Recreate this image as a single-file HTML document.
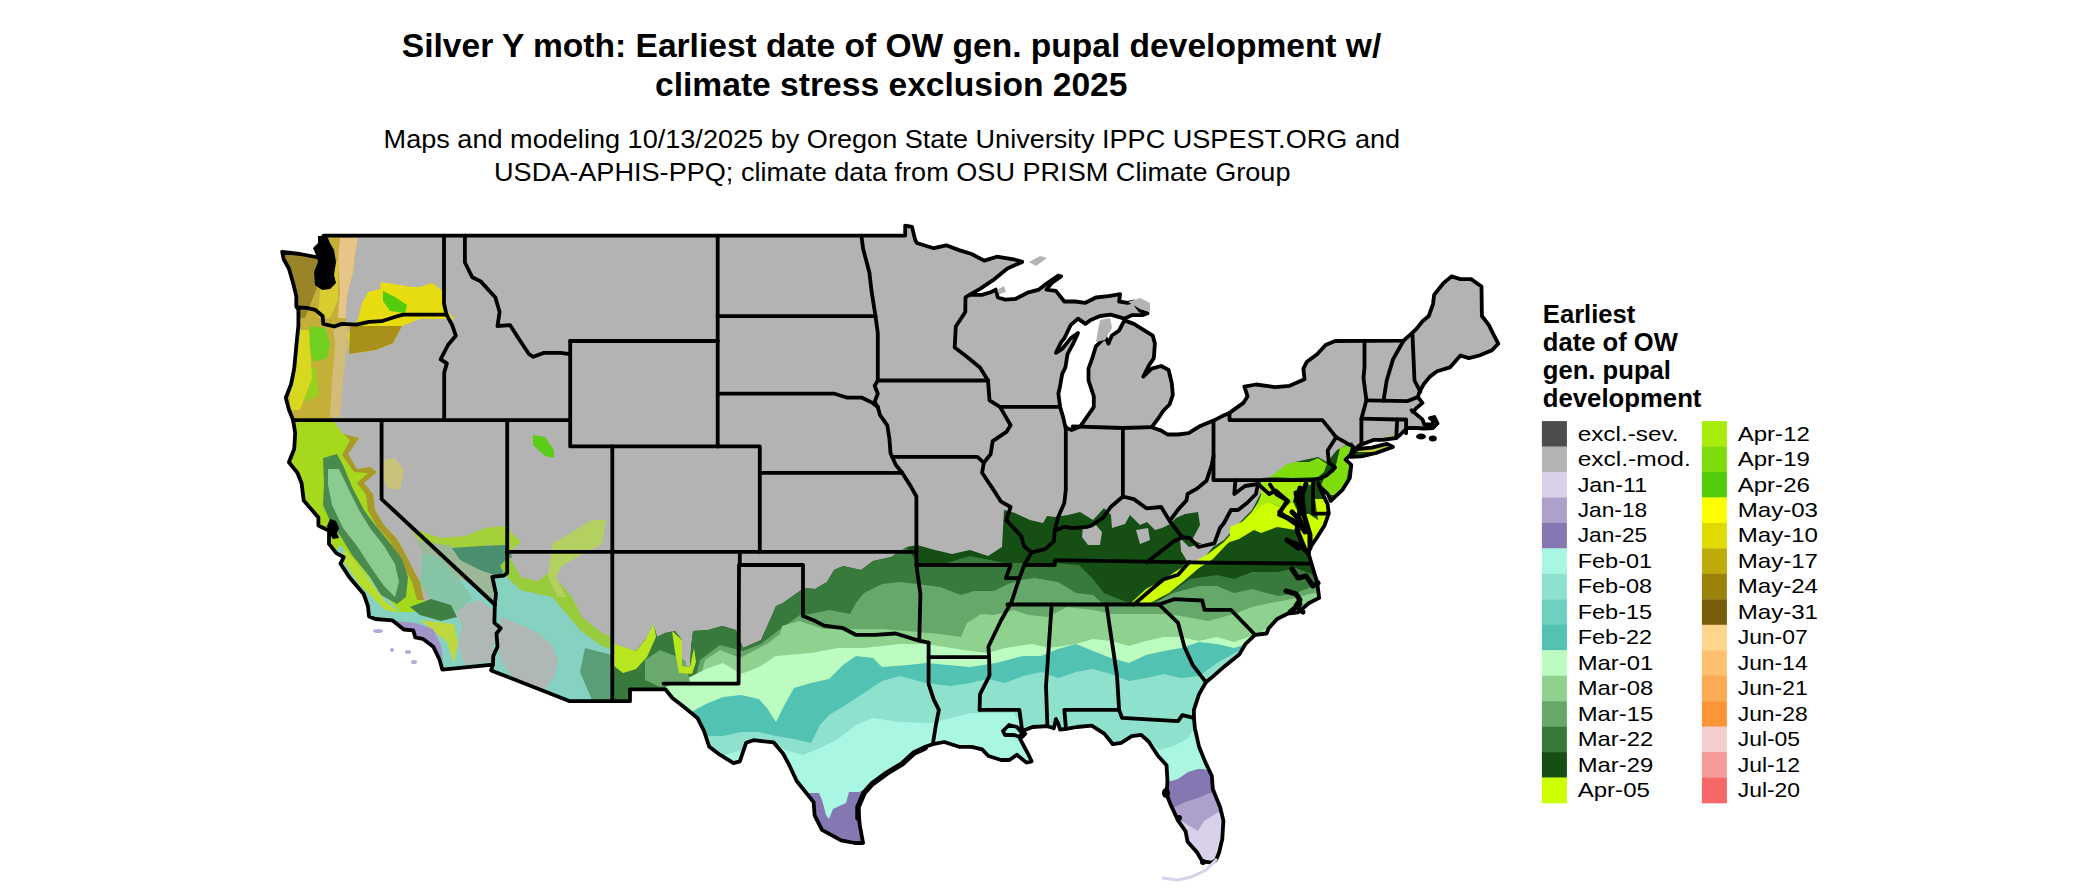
<!DOCTYPE html>
<html><head><meta charset="utf-8"><style>
html,body{margin:0;padding:0;background:#fff;width:2100px;height:892px;overflow:hidden}
svg{display:block}
text{font-family:"Liberation Sans",sans-serif;fill:#000}
</style></head><body>
<svg width="2100" height="892" viewBox="0 0 2100 892">
<text x="401.8" y="57.1" font-size="32.4" font-weight="bold" textLength="979.5" lengthAdjust="spacingAndGlyphs">Silver Y moth: Earliest date of OW gen. pupal development w/</text>
<text x="655" y="96.4" font-size="32.4" font-weight="bold" textLength="472.5" lengthAdjust="spacingAndGlyphs">climate stress exclusion 2025</text>
<text x="383.6" y="148.1" font-size="26.2" textLength="1016.5" lengthAdjust="spacingAndGlyphs">Maps and modeling 10/13/2025 by Oregon State University IPPC USPEST.ORG and</text>
<text x="494" y="180.5" font-size="26.2" textLength="796.5" lengthAdjust="spacingAndGlyphs">USDA-APHIS-PPQ; climate data from OSU PRISM Climate Group</text>
<defs><clipPath id="land"><polygon points="323.5,235.6 905.2,235.6 905.2,225.6 912.0,226.9 915.1,239.6 916.8,243.0 933.7,248.2 946.3,245.3 959.0,250.1 971.6,254.0 984.2,260.6 996.9,256.7 1013.7,259.3 1022.2,261.9 1007.4,268.5 992.7,280.4 980.0,288.8 969.5,294.9 982.1,294.9 990.6,292.3 995.8,289.6 997.9,297.5 1005.3,299.6 1015.8,298.8 1028.5,292.3 1039.0,289.6 1047.4,283.0 1058.0,275.7 1061.1,276.4 1051.7,283.0 1046.4,289.6 1055.9,290.9 1064.3,301.5 1074.8,301.5 1085.4,302.8 1095.9,297.5 1108.5,296.2 1120.1,294.1 1119.1,301.5 1127.5,302.8 1133.8,301.5 1137.0,306.7 1140.2,310.7 1147.5,313.3 1142.3,315.2 1131.7,315.2 1124.4,318.6 1110.7,314.6 1100.1,316.0 1090.6,319.9 1085.4,323.9 1078.0,318.6 1070.6,325.2 1064.3,338.4 1061.1,342.3 1055.9,352.9 1062.2,348.9 1070.6,338.4 1078.0,333.1 1073.8,342.3 1067.5,354.2 1065.4,367.4 1062.2,373.9 1060.1,385.8 1058.4,393.7 1060.1,406.9 1063.2,417.4 1065.4,427.4 1071.7,430.1 1080.1,426.6 1087.5,416.1 1093.8,406.9 1093.8,396.3 1088.5,380.5 1088.5,368.7 1092.7,356.8 1095.9,346.3 1105.4,337.0 1108.5,343.6 1111.7,335.7 1119.1,330.5 1124.4,320.4 1133.8,323.9 1142.3,329.1 1152.8,335.7 1154.9,343.6 1153.8,358.1 1148.6,366.0 1143.3,376.6 1151.7,368.7 1161.2,366.0 1168.6,370.0 1171.8,383.2 1172.8,395.0 1169.7,404.2 1163.3,410.8 1158.1,418.7 1151.7,427.2 1161.2,430.6 1167.5,434.5 1178.1,434.5 1188.6,433.2 1199.1,426.6 1213.5,420.6 1222.3,416.1 1229.5,412.9 1243.4,402.9 1247.6,396.3 1244.4,386.6 1256.0,384.5 1275.0,387.1 1289.7,385.8 1304.5,379.2 1303.4,368.7 1306.6,362.1 1317.1,354.2 1325.6,345.0 1335.1,341.0 1403.5,340.7 1412.0,333.1 1416.2,329.1 1422.5,321.2 1428.8,316.0 1433.0,304.1 1434.1,294.9 1443.6,283.0 1451.6,276.4 1460.4,279.1 1471.0,279.1 1481.5,286.5 1481.9,316.0 1488.9,325.2 1494.1,335.7 1498.3,343.6 1492.0,350.2 1479.4,355.5 1468.8,358.1 1460.4,355.5 1449.9,367.4 1437.2,371.3 1429.9,376.6 1423.5,384.5 1419.3,392.4 1417.9,397.1 1422.5,402.9 1416.2,408.2 1413.0,412.1 1411.6,410.2 1422.6,419.6 1424.2,424.5 1432.0,424.5 1433.5,421.0 1430.0,418.0 1434.4,417.0 1437.5,423.5 1433.0,428.0 1424.0,428.5 1416.0,428.0 1407.0,428.0 1400.0,435.0 1396.2,438.0 1382.5,439.8 1374.0,439.8 1363.5,443.8 1358.2,446.4 1353.0,450.4 1350.9,454.3 1345.6,459.6 1351.3,464.8 1349.8,478.0 1342.4,489.9 1330.8,500.9 1327.7,493.8 1319.2,485.9 1318.2,483.3 1321.4,491.2 1327.7,504.4 1328.7,513.6 1324.5,525.5 1317.1,537.3 1309.8,547.8 1308.7,553.9 1311.5,563.7 1317.1,582.1 1319.2,597.9 1308.7,603.2 1298.2,612.4 1287.6,613.7 1277.1,619.0 1268.7,628.2 1266.6,633.5 1255.0,634.8 1245.5,644.0 1239.2,654.6 1224.4,666.4 1213.9,675.6 1205.9,682.2 1199.1,694.1 1193.9,709.9 1193.9,717.8 1194.9,728.3 1199.1,746.8 1205.5,762.6 1211.8,775.8 1212.8,789.0 1220.2,807.4 1223.4,820.6 1222.3,839.0 1219.2,852.2 1216.0,860.1 1211.8,862.7 1202.3,861.4 1197.0,852.2 1187.6,841.7 1185.5,831.1 1178.1,820.6 1170.7,804.8 1166.5,794.2 1167.5,781.0 1166.5,765.2 1158.1,756.0 1148.6,741.5 1141.2,734.9 1131.7,736.2 1121.2,742.8 1112.8,744.2 1104.3,733.6 1091.7,725.7 1076.9,727.0 1066.0,728.9 1060.1,729.7 1058.0,723.1 1055.9,719.1 1053.8,728.3 1047.4,726.2 1032.7,727.0 1022.2,731.0 1025.3,733.6 1020.1,738.9 1024.3,746.8 1028.5,754.7 1031.6,761.3 1026.4,762.6 1016.9,754.7 1009.5,760.0 1001.1,760.0 988.4,756.0 982.1,749.4 971.6,746.8 959.0,746.8 944.2,742.0 932.8,744.2 925.2,746.8 913.7,753.4 902.1,763.9 887.3,773.1 872.6,783.7 864.1,792.9 857.8,807.4 859.9,825.8 863.1,843.0 854.7,843.0 841.0,840.3 822.0,829.8 814.6,815.3 813.6,802.1 796.7,781.0 789.3,765.2 783.0,753.4 773.5,742.3 753.5,740.2 746.1,742.8 739.8,761.3 733.5,763.1 719.8,754.7 709.3,746.8 704.0,731.0 697.7,718.3 685.0,707.8 672.4,698.0 665.4,689.3 630.0,689.3 630.0,701.2 569.8,701.2 491.2,670.4 492.9,664.6 442.3,669.6 439.6,659.8 433.3,646.7 422.7,638.8 415.3,637.4 413.2,630.3 403.8,629.5 392.2,620.3 375.3,619.0 369.0,616.4 367.9,605.8 363.7,594.0 350.0,578.1 340.5,563.7 343.7,557.1 336.3,553.1 329.0,543.9 329.0,530.7 318.4,525.5 318.4,517.5 303.7,500.4 301.6,483.3 297.4,472.8 288.9,462.2 294.2,449.0 295.2,433.2 293.1,420.1 288.9,409.5 285.8,397.7 291.0,384.5 294.2,368.7 296.3,346.3 298.4,325.2 298.4,309.4 296.3,306.7 296.3,296.2 293.1,283.0 288.9,268.5 283.7,259.3 282.2,251.9 300.0,254.0 321.0,258.0 324.0,248.0"/><polygon points="1350.9,456.9 1361.4,456.4 1376.1,453.0 1393.0,446.9 1386.7,443.8 1371.9,447.7 1357.2,449.0 1349.8,455.6"/></clipPath></defs>
<polygon points="323.5,235.6 905.2,235.6 905.2,225.6 912.0,226.9 915.1,239.6 916.8,243.0 933.7,248.2 946.3,245.3 959.0,250.1 971.6,254.0 984.2,260.6 996.9,256.7 1013.7,259.3 1022.2,261.9 1007.4,268.5 992.7,280.4 980.0,288.8 969.5,294.9 982.1,294.9 990.6,292.3 995.8,289.6 997.9,297.5 1005.3,299.6 1015.8,298.8 1028.5,292.3 1039.0,289.6 1047.4,283.0 1058.0,275.7 1061.1,276.4 1051.7,283.0 1046.4,289.6 1055.9,290.9 1064.3,301.5 1074.8,301.5 1085.4,302.8 1095.9,297.5 1108.5,296.2 1120.1,294.1 1119.1,301.5 1127.5,302.8 1133.8,301.5 1137.0,306.7 1140.2,310.7 1147.5,313.3 1142.3,315.2 1131.7,315.2 1124.4,318.6 1110.7,314.6 1100.1,316.0 1090.6,319.9 1085.4,323.9 1078.0,318.6 1070.6,325.2 1064.3,338.4 1061.1,342.3 1055.9,352.9 1062.2,348.9 1070.6,338.4 1078.0,333.1 1073.8,342.3 1067.5,354.2 1065.4,367.4 1062.2,373.9 1060.1,385.8 1058.4,393.7 1060.1,406.9 1063.2,417.4 1065.4,427.4 1071.7,430.1 1080.1,426.6 1087.5,416.1 1093.8,406.9 1093.8,396.3 1088.5,380.5 1088.5,368.7 1092.7,356.8 1095.9,346.3 1105.4,337.0 1108.5,343.6 1111.7,335.7 1119.1,330.5 1124.4,320.4 1133.8,323.9 1142.3,329.1 1152.8,335.7 1154.9,343.6 1153.8,358.1 1148.6,366.0 1143.3,376.6 1151.7,368.7 1161.2,366.0 1168.6,370.0 1171.8,383.2 1172.8,395.0 1169.7,404.2 1163.3,410.8 1158.1,418.7 1151.7,427.2 1161.2,430.6 1167.5,434.5 1178.1,434.5 1188.6,433.2 1199.1,426.6 1213.5,420.6 1222.3,416.1 1229.5,412.9 1243.4,402.9 1247.6,396.3 1244.4,386.6 1256.0,384.5 1275.0,387.1 1289.7,385.8 1304.5,379.2 1303.4,368.7 1306.6,362.1 1317.1,354.2 1325.6,345.0 1335.1,341.0 1403.5,340.7 1412.0,333.1 1416.2,329.1 1422.5,321.2 1428.8,316.0 1433.0,304.1 1434.1,294.9 1443.6,283.0 1451.6,276.4 1460.4,279.1 1471.0,279.1 1481.5,286.5 1481.9,316.0 1488.9,325.2 1494.1,335.7 1498.3,343.6 1492.0,350.2 1479.4,355.5 1468.8,358.1 1460.4,355.5 1449.9,367.4 1437.2,371.3 1429.9,376.6 1423.5,384.5 1419.3,392.4 1417.9,397.1 1422.5,402.9 1416.2,408.2 1413.0,412.1 1411.6,410.2 1422.6,419.6 1424.2,424.5 1432.0,424.5 1433.5,421.0 1430.0,418.0 1434.4,417.0 1437.5,423.5 1433.0,428.0 1424.0,428.5 1416.0,428.0 1407.0,428.0 1400.0,435.0 1396.2,438.0 1382.5,439.8 1374.0,439.8 1363.5,443.8 1358.2,446.4 1353.0,450.4 1350.9,454.3 1345.6,459.6 1351.3,464.8 1349.8,478.0 1342.4,489.9 1330.8,500.9 1327.7,493.8 1319.2,485.9 1318.2,483.3 1321.4,491.2 1327.7,504.4 1328.7,513.6 1324.5,525.5 1317.1,537.3 1309.8,547.8 1308.7,553.9 1311.5,563.7 1317.1,582.1 1319.2,597.9 1308.7,603.2 1298.2,612.4 1287.6,613.7 1277.1,619.0 1268.7,628.2 1266.6,633.5 1255.0,634.8 1245.5,644.0 1239.2,654.6 1224.4,666.4 1213.9,675.6 1205.9,682.2 1199.1,694.1 1193.9,709.9 1193.9,717.8 1194.9,728.3 1199.1,746.8 1205.5,762.6 1211.8,775.8 1212.8,789.0 1220.2,807.4 1223.4,820.6 1222.3,839.0 1219.2,852.2 1216.0,860.1 1211.8,862.7 1202.3,861.4 1197.0,852.2 1187.6,841.7 1185.5,831.1 1178.1,820.6 1170.7,804.8 1166.5,794.2 1167.5,781.0 1166.5,765.2 1158.1,756.0 1148.6,741.5 1141.2,734.9 1131.7,736.2 1121.2,742.8 1112.8,744.2 1104.3,733.6 1091.7,725.7 1076.9,727.0 1066.0,728.9 1060.1,729.7 1058.0,723.1 1055.9,719.1 1053.8,728.3 1047.4,726.2 1032.7,727.0 1022.2,731.0 1025.3,733.6 1020.1,738.9 1024.3,746.8 1028.5,754.7 1031.6,761.3 1026.4,762.6 1016.9,754.7 1009.5,760.0 1001.1,760.0 988.4,756.0 982.1,749.4 971.6,746.8 959.0,746.8 944.2,742.0 932.8,744.2 925.2,746.8 913.7,753.4 902.1,763.9 887.3,773.1 872.6,783.7 864.1,792.9 857.8,807.4 859.9,825.8 863.1,843.0 854.7,843.0 841.0,840.3 822.0,829.8 814.6,815.3 813.6,802.1 796.7,781.0 789.3,765.2 783.0,753.4 773.5,742.3 753.5,740.2 746.1,742.8 739.8,761.3 733.5,763.1 719.8,754.7 709.3,746.8 704.0,731.0 697.7,718.3 685.0,707.8 672.4,698.0 665.4,689.3 630.0,689.3 630.0,701.2 569.8,701.2 491.2,670.4 492.9,664.6 442.3,669.6 439.6,659.8 433.3,646.7 422.7,638.8 415.3,637.4 413.2,630.3 403.8,629.5 392.2,620.3 375.3,619.0 369.0,616.4 367.9,605.8 363.7,594.0 350.0,578.1 340.5,563.7 343.7,557.1 336.3,553.1 329.0,543.9 329.0,530.7 318.4,525.5 318.4,517.5 303.7,500.4 301.6,483.3 297.4,472.8 288.9,462.2 294.2,449.0 295.2,433.2 293.1,420.1 288.9,409.5 285.8,397.7 291.0,384.5 294.2,368.7 296.3,346.3 298.4,325.2 298.4,309.4 296.3,306.7 296.3,296.2 293.1,283.0 288.9,268.5 283.7,259.3 282.2,251.9 300.0,254.0 321.0,258.0 324.0,248.0" fill="#b3b3b3"/>
<polygon points="1350.9,456.9 1361.4,456.4 1376.1,453.0 1393.0,446.9 1386.7,443.8 1371.9,447.7 1357.2,449.0 1349.8,455.6" fill="#c8d040"/>
<g clip-path="url(#land)">
<polygon points="612,644 618,648 636,651 645,640 654,626 657,637 665,633 675,631 682,640 682,666 690,667 691,648 693,631 708,630 722,626 736,630 743,648 761,640 770,620 776,606 783,603 790,598 804,588 815,589 827,582 834,570 843,566 861,570 873,561 891,557 907,547 917,545 935,550 952,554 970,550 988,556 1002,547 1004,510 1015,513 1030,520 1043,523 1047,516 1055,517 1068,515 1080,512 1093,520 1104,508 1111,515 1112,528 1125,524 1130,515 1140,525 1147,522 1155,530 1162,528 1170,524 1176,518 1185,514 1198,512 1200,525 1192,540 1205,545 1222,533 1232,514 1245,508 1258,488 1262,478 1290,476 1295,462 1318,457 1327,462 1337,450 1352,442 1358,452 1500,452 1500,900 612,900" fill="#154f14"/>
<polygon points="600,900 612,644 618,648 636,651 645,640 654,626 657,637 665,633 675,631 682,640 682,666 690,667 691,648 693,631 708,630 722,626 736,630 743,648 761,640 770,620 776,606 783,603 790,598 804,588 815,589 827,582 834,570 843,566 861,570 873,561 891,557 907,547 917,563 940,565 970,556 1005,563 1023,563 1053,563 1079,565 1093,579 1104,593 1129,603 1132,604 1160,600 1190,579 1217,575 1234,579 1252,572 1278,572 1296,568 1314,575 1340,575 1340,900 600,900" fill="#387a3c"/>
<polygon points="600,900 612,700 690,700 700,660 720,645 743,651 761,644 779,630 800,615 811,614 829,610 850,614 856,603 864,593 882,584 900,582 917,584 940,587 961,595 974,591 994,591 1008,584 1021,580 1035,578 1058,582 1076,593 1093,595 1102,603 1140,605 1155,603 1173,593 1199,586 1217,586 1234,593 1252,589 1278,596 1296,593 1314,586 1340,585 1340,900 600,900" fill="#66a86a"/>
<polygon points="600,900 612,705 695,700 705,660 720,650 740,658 767,644 780,634 782,626 799,621 824,629 854,629 883,629 918,632 940,634 961,637 967,623 981,614 994,615 1014,610 1028,615 1048,617 1067,607 1093,610 1111,614 1129,614 1146,614 1164,614 1181,616 1208,621 1234,614 1252,607 1270,603 1287,600 1314,593 1340,590 1340,900 600,900" fill="#8fd18f"/>
<polygon points="600,900 612,712 650,700 671,683 688,678 706,669 723,663 741,674 759,667 776,656 811,653 838,648 864,648 900,644 926,644 970,651 988,653 1005,648 1032,644 1049,648 1076,644 1093,639 1111,641 1129,646 1146,641 1164,637 1181,637 1199,641 1217,637 1234,642 1260,633 1280,620 1300,612 1340,605 1340,900 600,900" fill="#bdfcc0"/>
<polygon points="600,900 660,760 695,740 693,711 706,704 723,697 741,695 759,699 767,708 776,722 785,704 794,688 811,683 829,679 843,665 856,656 873,658 882,667 908,665 926,663 970,667 996,663 1023,656 1041,656 1058,649 1076,644 1093,651 1111,658 1129,663 1146,655 1164,651 1181,648 1199,642 1217,644 1234,648 1260,640 1290,625 1340,615 1340,900 600,900" fill="#52c2b2"/>
<polygon points="600,900 680,770 702,737 709,736 723,736 741,732 759,732 776,736 794,739 811,743 820,725 829,715 847,704 864,693 882,681 900,676 926,683 950,686 970,683 988,679 1005,683 1023,676 1041,672 1058,678 1076,672 1093,669 1111,674 1129,681 1146,678 1164,674 1181,678 1199,676 1217,663 1240,650 1290,630 1340,620 1340,900 600,900" fill="#8de1cd"/>
<polygon points="600,900 700,762 760,745 776,743 785,750 803,755 820,748 838,739 856,725 873,718 900,722 931,723 970,713 1014,713 1021,725 1028,729 1030,745 1140,745 1152,743 1160,750 1173,746 1187,739 1194,729 1240,700 1340,690 1340,900 600,900" fill="#a9f6e2"/>
<polygon points="1160,783 1168,782 1178,779 1188,772 1198,769 1204,769 1220,776 1240,900 1150,900" fill="#8577b1"/>
<polygon points="1165,809 1173,808 1185,802 1198,798 1207,794 1214,792 1230,790 1240,900 1150,900" fill="#ada0cb"/>
<polygon points="1175,822 1181,821 1198,831 1204,821 1217,813 1222,811 1235,810 1240,900 1150,900" fill="#d9d1e9"/>
<polygon points="805,793 810,793 819,793 822,800 826,815 829,819 833,809 846,803 849,792 859,792 875,785 875,860 800,860" fill="#8577b1"/>
<polygon points="1083,527 1095,524 1102,532 1100,545 1088,545 1082,537" fill="#b3b3b3"/>
<polygon points="1136,530 1148,528 1150,540 1140,544" fill="#b3b3b3"/>
<polygon points="1180,538 1189,547 1204,543 1220,531 1231,512 1243,506 1259,485 1262,491 1252,510 1238,524 1224,540 1213,547 1204,558 1190,565 1187,575 1173,589 1164,595 1169,582 1178,572 1187,561 1181,551" fill="#b3b3b3"/>
<polygon points="1132,602 1146,589 1164,579 1181,568 1196,561 1208,554 1224,542 1238,526 1252,512 1261,498 1270,484 1276,488 1270,501 1259,521 1245,529 1226,545 1213,559 1199,568 1185,580 1169,593 1150,603 1136,607" fill="#ccff00"/>
<polygon points="1254,514 1269,502 1282,508 1293,502 1299,514 1309,514 1318,520 1327,514 1318,546 1305,549 1296,530 1277,527 1261,533 1254,530 1239,539 1230,542 1230,527 1246,520" fill="#ccff00"/>
<polygon points="1261,480 1309,480 1315,483 1299,489 1293,502 1282,508 1269,502 1258,508 1254,514 1261,495" fill="#a8ec0c"/>
<polygon points="1270,477 1287,464 1296,462 1309,462 1318,458 1327,464 1324,472 1318,477 1293,478" fill="#7fdc0c"/>
<polygon points="1340,448 1351,444 1352,451 1349,467 1346,483 1337,495 1327,495 1321,486 1324,478 1334,472 1337,461" fill="#7fdc0c"/>
<polygon points="1315,499 1327,499 1330,514 1318,520" fill="#ccff00"/>
<polygon points="1348,450 1370,441 1395,435 1430,428 1448,426 1448,436 1400,443 1362,452" fill="#c8d040"/>
<polygon points="645,660 660,650 685,660 690,682 660,687 645,680" fill="#6aa86c"/>
<polygon points="614,644 636,651 645,640 654,624 656,637 647,657 636,669 623,673 614,666" fill="#b8e620"/>
<polygon points="672,631 682,640 682,666 690,667 694,648 696,662 692,674 679,673 675,652" fill="#b8e620"/>
<polygon points="270,236 323,236 358,238 355,255 353,273 348,291 346,308 346,326 344,343 339,361 336,380 333,400 332,418 270,418" fill="#c4b038"/>
<polygon points="270,245 318,258 320,280 312,300 305,318 270,318" fill="#9a8428"/>
<polygon points="340,238 358,238 355,255 353,273 348,291 346,308 346,318 338,318 340,290 338,260" fill="#e8c488"/>
<polygon points="322,262 338,262 338,300 330,318 318,318 320,290" fill="#d8cc30"/>
<polygon points="333,326 349,324 347,345 343,380 340,417 330,417 332,380 335,345" fill="#d2bc78"/>
<polygon points="310,326 325,328 330,345 327,358 313,362 309,345" fill="#70d020"/>
<polygon points="300,365 316,368 319,395 306,402 298,386" fill="#98d020"/>
<polygon points="290,330 309,330 312,378 300,410 290,410" fill="#d8d820"/>
<polygon points="362,303 368,292 380,289 381,282 394,284 412,287 420,287 432,283 443,291 444,308 455,319 420,319 402,326 393,343 376,350 349,354 348,333 358,319" fill="#e6dc10"/>
<polygon points="383,291 395,297 407,305 405,313 390,311 383,301" fill="#53cc0b"/>
<polygon points="350,326 402,326 393,343 376,350 349,354" fill="#a8901a"/>
<polygon points="270,418 332,418 334,422 343,434 359,438 348,454 357,469 370,467 377,472 364,483 373,494 375,510 384,525 397,539 406,555 415,573 420,582 424,600 430,612 400,625 270,625" fill="#a6d81e"/>
<polygon points="343,434 359,438 348,454 357,469 370,467 377,472 364,483 373,494 375,510 384,525 397,539 406,555 415,573 420,582 424,600 417,600 412,582 407,573 398,556 390,541 377,527 368,511 366,495 357,483 368,473 354,472 342,455 350,440" fill="#a89a28"/>
<polygon points="340,545 380,590 400,612 430,612 445,590 470,572 493,578 500,566 505,575 520,590 538,594 552,597 565,612 580,630 600,645 612,650 612,720 380,720 330,560" fill="#86d2c2"/>
<polygon points="323,458 337,454 343,465 352,487 364,510 375,525 390,543 402,559 408,577 406,597 397,604 381,595 370,577 352,555 341,537 330,521 323,505 324,483" fill="#4a8a4e"/>
<polygon points="328,469 339,469 350,492 359,510 370,528 384,546 395,564 399,582 395,597 384,586 370,566 357,546 343,528 332,505 328,485" fill="#8ccb90"/>
<polygon points="460,605 480,600 495,612 497,633 493,649 497,661 465,665 458,645 462,625 455,612" fill="#b0b8b6"/>
<polygon points="501,617 521,625 538,633 552,645 558,661 554,677 542,692 521,686 509,673 501,661 497,641" fill="#b0b8b6"/>
<polygon points="410,528 441,538 465,536 485,528 505,526 521,542 509,552 490,545 470,548 445,550 420,542" fill="#a4d038"/>
<polygon points="416,540 451,546 493,576 493,600 465,581 430,564" fill="#9cb898"/>
<polygon points="452,548 480,546 505,545 512,556 500,577 480,570 460,560" fill="#4a9070"/>
<polygon points="509,556 521,577 538,581 548,573 558,581 572,597 582,617 602,633 612,637 612,650 600,645 580,630 565,612 552,597 538,594 520,590 505,575 500,566" fill="#98cc3c"/>
<polygon points="552,544 572,532 592,520 606,520 602,544 582,554 562,566 556,577 566,597 558,597 548,577" fill="#b4d060"/>
<polygon points="423,553 440,558 458,578 472,598 457,612 432,602 420,583" fill="#86c4a6"/>
<polygon points="345,549 366,576 385,601 400,613 385,610 359,584 342,559" fill="#b8dc30"/>
<polygon points="420,620 454,624 458,642 454,664 447,642" fill="#c0d840"/>
<polygon points="585,648 612,655 612,700 592,700 580,672" fill="#5a9e78"/>
<polygon points="410,607 431,599 451,605 457,617 441,621 420,615" fill="#3f7f44"/>
<polygon points="396,621 416,623 433,629 441,645 443,661 437,651 420,637 400,625" fill="#a294c8"/>
<polygon points="533,435 545,437 554,450 554,458 545,456 533,445" fill="#5ccc18"/>
<polygon points="383,460 395,458 404,470 400,490 387,488 382,475" fill="#c8c27a"/>
</g>
<polygon points="323.5,235.6 905.2,235.6 905.2,225.6 912.0,226.9 915.1,239.6 916.8,243.0 933.7,248.2 946.3,245.3 959.0,250.1 971.6,254.0 984.2,260.6 996.9,256.7 1013.7,259.3 1022.2,261.9 1007.4,268.5 992.7,280.4 980.0,288.8 969.5,294.9 982.1,294.9 990.6,292.3 995.8,289.6 997.9,297.5 1005.3,299.6 1015.8,298.8 1028.5,292.3 1039.0,289.6 1047.4,283.0 1058.0,275.7 1061.1,276.4 1051.7,283.0 1046.4,289.6 1055.9,290.9 1064.3,301.5 1074.8,301.5 1085.4,302.8 1095.9,297.5 1108.5,296.2 1120.1,294.1 1119.1,301.5 1127.5,302.8 1133.8,301.5 1137.0,306.7 1140.2,310.7 1147.5,313.3 1142.3,315.2 1131.7,315.2 1124.4,318.6 1110.7,314.6 1100.1,316.0 1090.6,319.9 1085.4,323.9 1078.0,318.6 1070.6,325.2 1064.3,338.4 1061.1,342.3 1055.9,352.9 1062.2,348.9 1070.6,338.4 1078.0,333.1 1073.8,342.3 1067.5,354.2 1065.4,367.4 1062.2,373.9 1060.1,385.8 1058.4,393.7 1060.1,406.9 1063.2,417.4 1065.4,427.4 1071.7,430.1 1080.1,426.6 1087.5,416.1 1093.8,406.9 1093.8,396.3 1088.5,380.5 1088.5,368.7 1092.7,356.8 1095.9,346.3 1105.4,337.0 1108.5,343.6 1111.7,335.7 1119.1,330.5 1124.4,320.4 1133.8,323.9 1142.3,329.1 1152.8,335.7 1154.9,343.6 1153.8,358.1 1148.6,366.0 1143.3,376.6 1151.7,368.7 1161.2,366.0 1168.6,370.0 1171.8,383.2 1172.8,395.0 1169.7,404.2 1163.3,410.8 1158.1,418.7 1151.7,427.2 1161.2,430.6 1167.5,434.5 1178.1,434.5 1188.6,433.2 1199.1,426.6 1213.5,420.6 1222.3,416.1 1229.5,412.9 1243.4,402.9 1247.6,396.3 1244.4,386.6 1256.0,384.5 1275.0,387.1 1289.7,385.8 1304.5,379.2 1303.4,368.7 1306.6,362.1 1317.1,354.2 1325.6,345.0 1335.1,341.0 1403.5,340.7 1412.0,333.1 1416.2,329.1 1422.5,321.2 1428.8,316.0 1433.0,304.1 1434.1,294.9 1443.6,283.0 1451.6,276.4 1460.4,279.1 1471.0,279.1 1481.5,286.5 1481.9,316.0 1488.9,325.2 1494.1,335.7 1498.3,343.6 1492.0,350.2 1479.4,355.5 1468.8,358.1 1460.4,355.5 1449.9,367.4 1437.2,371.3 1429.9,376.6 1423.5,384.5 1419.3,392.4 1417.9,397.1 1422.5,402.9 1416.2,408.2 1413.0,412.1 1411.6,410.2 1422.6,419.6 1424.2,424.5 1432.0,424.5 1433.5,421.0 1430.0,418.0 1434.4,417.0 1437.5,423.5 1433.0,428.0 1424.0,428.5 1416.0,428.0 1407.0,428.0 1400.0,435.0 1396.2,438.0 1382.5,439.8 1374.0,439.8 1363.5,443.8 1358.2,446.4 1353.0,450.4 1350.9,454.3 1345.6,459.6 1351.3,464.8 1349.8,478.0 1342.4,489.9 1330.8,500.9 1327.7,493.8 1319.2,485.9 1318.2,483.3 1321.4,491.2 1327.7,504.4 1328.7,513.6 1324.5,525.5 1317.1,537.3 1309.8,547.8 1308.7,553.9 1311.5,563.7 1317.1,582.1 1319.2,597.9 1308.7,603.2 1298.2,612.4 1287.6,613.7 1277.1,619.0 1268.7,628.2 1266.6,633.5 1255.0,634.8 1245.5,644.0 1239.2,654.6 1224.4,666.4 1213.9,675.6 1205.9,682.2 1199.1,694.1 1193.9,709.9 1193.9,717.8 1194.9,728.3 1199.1,746.8 1205.5,762.6 1211.8,775.8 1212.8,789.0 1220.2,807.4 1223.4,820.6 1222.3,839.0 1219.2,852.2 1216.0,860.1 1211.8,862.7 1202.3,861.4 1197.0,852.2 1187.6,841.7 1185.5,831.1 1178.1,820.6 1170.7,804.8 1166.5,794.2 1167.5,781.0 1166.5,765.2 1158.1,756.0 1148.6,741.5 1141.2,734.9 1131.7,736.2 1121.2,742.8 1112.8,744.2 1104.3,733.6 1091.7,725.7 1076.9,727.0 1066.0,728.9 1060.1,729.7 1058.0,723.1 1055.9,719.1 1053.8,728.3 1047.4,726.2 1032.7,727.0 1022.2,731.0 1025.3,733.6 1020.1,738.9 1024.3,746.8 1028.5,754.7 1031.6,761.3 1026.4,762.6 1016.9,754.7 1009.5,760.0 1001.1,760.0 988.4,756.0 982.1,749.4 971.6,746.8 959.0,746.8 944.2,742.0 932.8,744.2 925.2,746.8 913.7,753.4 902.1,763.9 887.3,773.1 872.6,783.7 864.1,792.9 857.8,807.4 859.9,825.8 863.1,843.0 854.7,843.0 841.0,840.3 822.0,829.8 814.6,815.3 813.6,802.1 796.7,781.0 789.3,765.2 783.0,753.4 773.5,742.3 753.5,740.2 746.1,742.8 739.8,761.3 733.5,763.1 719.8,754.7 709.3,746.8 704.0,731.0 697.7,718.3 685.0,707.8 672.4,698.0 665.4,689.3 630.0,689.3 630.0,701.2 569.8,701.2 491.2,670.4 492.9,664.6 442.3,669.6 439.6,659.8 433.3,646.7 422.7,638.8 415.3,637.4 413.2,630.3 403.8,629.5 392.2,620.3 375.3,619.0 369.0,616.4 367.9,605.8 363.7,594.0 350.0,578.1 340.5,563.7 343.7,557.1 336.3,553.1 329.0,543.9 329.0,530.7 318.4,525.5 318.4,517.5 303.7,500.4 301.6,483.3 297.4,472.8 288.9,462.2 294.2,449.0 295.2,433.2 293.1,420.1 288.9,409.5 285.8,397.7 291.0,384.5 294.2,368.7 296.3,346.3 298.4,325.2 298.4,309.4 296.3,306.7 296.3,296.2 293.1,283.0 288.9,268.5 283.7,259.3 282.2,251.9 300.0,254.0 321.0,258.0 324.0,248.0" fill="none" stroke="#000" stroke-width="3.8" stroke-linejoin="round"/>
<polygon points="1350.9,456.9 1361.4,456.4 1376.1,453.0 1393.0,446.9 1386.7,443.8 1371.9,447.7 1357.2,449.0 1349.8,455.6" fill="none" stroke="#000" stroke-width="3.8" stroke-linejoin="round"/>
<polyline points="446.5,314.6 403.1,314.6 396.4,316.5 381.6,321.2 369.0,321.8 356.3,324.7 341.6,323.9 334.2,326.5 323.3,323.9 322.6,316.0 315.3,309.9 306.8,307.8 297.4,307.5" fill="none" stroke="#000" stroke-width="3.8" stroke-linejoin="round" stroke-linecap="round"/>
<polyline points="444.0,235.6 444.0,303.6 446.5,314.6" fill="none" stroke="#000" stroke-width="3.8" stroke-linejoin="round" stroke-linecap="round"/>
<polyline points="446.5,314.6 452.2,325.2 455.8,335.7 448.0,345.0 440.6,359.4 446.9,363.4 444.2,372.6 444.2,420.1" fill="none" stroke="#000" stroke-width="3.8" stroke-linejoin="round" stroke-linecap="round"/>
<polyline points="293.1,420.1 570.2,420.1" fill="none" stroke="#000" stroke-width="3.8" stroke-linejoin="round" stroke-linecap="round"/>
<polyline points="464.9,235.6 464.9,262.5 472.2,277.2 480.7,281.4 495.4,297.5 499.6,312.0 497.5,326.0 510.2,325.2 518.6,338.4 529.1,354.2 533.3,356.8 543.9,352.9 560.7,352.9 570.2,354.2" fill="none" stroke="#000" stroke-width="3.8" stroke-linejoin="round" stroke-linecap="round"/>
<polyline points="570.2,341.0 570.2,446.4 612.3,446.4" fill="none" stroke="#000" stroke-width="3.8" stroke-linejoin="round" stroke-linecap="round"/>
<polyline points="570.2,341.0 717.9,341.0" fill="none" stroke="#000" stroke-width="3.8" stroke-linejoin="round" stroke-linecap="round"/>
<polyline points="717.7,235.6 717.7,446.4" fill="none" stroke="#000" stroke-width="3.8" stroke-linejoin="round" stroke-linecap="round"/>
<polyline points="717.7,446.4 759.8,446.4 759.8,551.8" fill="none" stroke="#000" stroke-width="3.8" stroke-linejoin="round" stroke-linecap="round"/>
<polyline points="612.3,446.4 717.7,446.4" fill="none" stroke="#000" stroke-width="3.8" stroke-linejoin="round" stroke-linecap="round"/>
<polyline points="507.2,420.1 507.2,551.8" fill="none" stroke="#000" stroke-width="3.8" stroke-linejoin="round" stroke-linecap="round"/>
<polyline points="507.2,551.8 916.4,551.8" fill="none" stroke="#000" stroke-width="3.8" stroke-linejoin="round" stroke-linecap="round"/>
<polyline points="612.3,446.4 612.3,701.2" fill="none" stroke="#000" stroke-width="3.8" stroke-linejoin="round" stroke-linecap="round"/>
<polyline points="381.6,420.1 381.6,499.1 494.8,604.5" fill="none" stroke="#000" stroke-width="3.8" stroke-linejoin="round" stroke-linecap="round"/>
<polyline points="494.8,604.5 496.0,594.0 492.3,576.8 503.8,575.5 507.2,572.9 507.2,551.8" fill="none" stroke="#000" stroke-width="3.8" stroke-linejoin="round" stroke-linecap="round"/>
<polyline points="494.8,604.5 494.4,622.9 500.7,628.2 496.5,633.5 497.5,646.7 493.3,655.9 492.9,664.6" fill="none" stroke="#000" stroke-width="3.8" stroke-linejoin="round" stroke-linecap="round"/>
<polyline points="663.5,683.6 738.6,683.6 739.0,565.0 803.0,565.0 803.0,616.1" fill="none" stroke="#000" stroke-width="3.8" stroke-linejoin="round" stroke-linecap="round"/>
<polyline points="739.8,551.8 739.8,565.0" fill="none" stroke="#000" stroke-width="3.8" stroke-linejoin="round" stroke-linecap="round"/>
<polyline points="803.0,616.1 813.6,620.3 824.1,625.6 843.1,628.2 855.7,634.8 874.7,634.8 895.7,633.5 918.9,640.6 928.6,642.7" fill="none" stroke="#000" stroke-width="3.8" stroke-linejoin="round" stroke-linecap="round"/>
<polyline points="919.3,640.3 920.4,594.2 916.4,565.0 916.4,551.8" fill="none" stroke="#000" stroke-width="3.8" stroke-linejoin="round" stroke-linecap="round"/>
<polyline points="759.8,472.8 902.1,472.8" fill="none" stroke="#000" stroke-width="3.8" stroke-linejoin="round" stroke-linecap="round"/>
<polyline points="916.4,551.8 916.4,496.5 910.5,485.9 902.1,472.8" fill="none" stroke="#000" stroke-width="3.8" stroke-linejoin="round" stroke-linecap="round"/>
<polyline points="717.7,393.7 834.6,393.7 847.3,397.7 862.0,397.7 872.6,402.9 877.8,407.1" fill="none" stroke="#000" stroke-width="3.8" stroke-linejoin="round" stroke-linecap="round"/>
<polyline points="877.8,407.1 879.9,414.8 887.3,425.3 889.4,438.5 890.5,453.0 895.7,464.8 902.1,472.8" fill="none" stroke="#000" stroke-width="3.8" stroke-linejoin="round" stroke-linecap="round"/>
<polyline points="717.7,316.2 875.5,316.2" fill="none" stroke="#000" stroke-width="3.8" stroke-linejoin="round" stroke-linecap="round"/>
<polyline points="875.5,316.2 871.5,290.9 869.4,272.5 863.1,248.8 861.4,235.6" fill="none" stroke="#000" stroke-width="3.8" stroke-linejoin="round" stroke-linecap="round"/>
<polyline points="875.5,316.2 877.8,333.1 877.8,380.5" fill="none" stroke="#000" stroke-width="3.8" stroke-linejoin="round" stroke-linecap="round"/>
<polyline points="877.8,380.5 874.7,385.8 877.8,393.7 874.7,401.6 877.8,407.1" fill="none" stroke="#000" stroke-width="3.8" stroke-linejoin="round" stroke-linecap="round"/>
<polyline points="877.8,380.5 988.0,380.5" fill="none" stroke="#000" stroke-width="3.8" stroke-linejoin="round" stroke-linecap="round"/>
<polyline points="988.0,380.5 980.0,367.4 965.3,355.5 954.7,347.6 955.8,326.5 965.3,312.0 965.5,297.3 969.5,294.9" fill="none" stroke="#000" stroke-width="3.8" stroke-linejoin="round" stroke-linecap="round"/>
<polyline points="892.2,456.9 977.3,456.9 983.8,462.7" fill="none" stroke="#000" stroke-width="3.8" stroke-linejoin="round" stroke-linecap="round"/>
<polyline points="988.0,380.5 989.5,400.3 1000.0,406.9 1010.6,425.3 1006.4,431.9 992.7,441.1 990.6,454.3 983.8,462.7 982.1,472.8 992.7,488.6 1001.1,501.7 1010.6,507.0 1006.4,520.2 1021.1,536.0 1024.3,546.5 1031.6,552.3 1024.3,565.0 1019.4,578.1 1011.6,601.9 1001.1,620.3 988.4,646.7 989.1,657.2 989.5,675.6 980.0,694.1 979.6,709.9" fill="none" stroke="#000" stroke-width="3.8" stroke-linejoin="round" stroke-linecap="round"/>
<polyline points="1000.2,406.9 1060.1,406.9" fill="none" stroke="#000" stroke-width="3.8" stroke-linejoin="round" stroke-linecap="round"/>
<polyline points="916.4,565.0 1010.6,565.0 1005.9,578.1 1019.4,578.1" fill="none" stroke="#000" stroke-width="3.8" stroke-linejoin="round" stroke-linecap="round"/>
<polyline points="928.6,642.7 928.6,657.2 989.1,657.2" fill="none" stroke="#000" stroke-width="3.8" stroke-linejoin="round" stroke-linecap="round"/>
<polyline points="928.6,657.2 928.6,683.8 933.7,699.4 938.9,709.9 935.8,725.7 932.8,744.2" fill="none" stroke="#000" stroke-width="3.8" stroke-linejoin="round" stroke-linecap="round"/>
<polyline points="979.6,709.9 1019.4,709.9 1022.2,731.0" fill="none" stroke="#000" stroke-width="3.8" stroke-linejoin="round" stroke-linecap="round"/>
<polyline points="1007.4,604.5 1159.1,604.5" fill="none" stroke="#000" stroke-width="3.8" stroke-linejoin="round" stroke-linecap="round"/>
<polyline points="1051.7,604.5 1046.0,686.2 1047.4,726.2" fill="none" stroke="#000" stroke-width="3.8" stroke-linejoin="round" stroke-linecap="round"/>
<polyline points="1106.4,604.5 1117.0,675.6 1119.1,709.9" fill="none" stroke="#000" stroke-width="3.8" stroke-linejoin="round" stroke-linecap="round"/>
<polyline points="1066.0,728.9 1064.3,709.9 1119.1,709.9" fill="none" stroke="#000" stroke-width="3.8" stroke-linejoin="round" stroke-linecap="round"/>
<polyline points="1119.1,709.9 1122.0,717.8 1178.1,721.2 1182.3,715.2 1193.9,717.8" fill="none" stroke="#000" stroke-width="3.8" stroke-linejoin="round" stroke-linecap="round"/>
<polyline points="1159.1,604.5 1178.1,622.9 1184.4,646.7 1192.8,665.1 1205.9,682.2" fill="none" stroke="#000" stroke-width="3.8" stroke-linejoin="round" stroke-linecap="round"/>
<polyline points="1024.3,565.0 1054.8,565.0 1054.8,560.2 1189.0,562.3" fill="none" stroke="#000" stroke-width="3.8" stroke-linejoin="round" stroke-linecap="round"/>
<polyline points="1133.8,604.5 1150.7,590.0 1163.3,579.5 1178.1,574.7 1189.0,562.3" fill="none" stroke="#000" stroke-width="3.8" stroke-linejoin="round" stroke-linecap="round"/>
<polyline points="1146.9,562.3 1173.9,541.3 1182.3,537.3 1169.7,521.0" fill="none" stroke="#000" stroke-width="3.8" stroke-linejoin="round" stroke-linecap="round"/>
<polyline points="1213.5,455.9 1211.8,464.8 1206.5,480.7 1197.0,488.6 1187.6,493.8 1186.5,500.4 1178.1,509.6 1169.7,521.0 1161.2,507.0 1146.5,508.3 1133.8,499.1 1122.9,496.5 1110.7,507.0 1103.3,517.5 1091.7,525.5 1087.5,526.8 1072.7,528.1 1064.3,526.8 1054.8,530.7 1053.8,541.3 1045.3,549.2 1031.6,552.3" fill="none" stroke="#000" stroke-width="3.8" stroke-linejoin="round" stroke-linecap="round"/>
<polyline points="1065.8,426.4 1065.8,489.9 1064.3,503.1 1058.0,517.5 1054.8,530.7" fill="none" stroke="#000" stroke-width="3.8" stroke-linejoin="round" stroke-linecap="round"/>
<polyline points="1122.9,428.0 1122.9,496.5" fill="none" stroke="#000" stroke-width="3.8" stroke-linejoin="round" stroke-linecap="round"/>
<polyline points="1072.7,426.4 1122.9,428.0 1151.7,427.2" fill="none" stroke="#000" stroke-width="3.8" stroke-linejoin="round" stroke-linecap="round"/>
<polyline points="1213.5,420.6 1213.5,480.1 1235.4,480.1 1313.1,480.1" fill="none" stroke="#000" stroke-width="3.8" stroke-linejoin="round" stroke-linecap="round"/>
<polyline points="1235.4,480.1 1234.3,494.0 1245.0,486.0 1258.0,484.0" fill="none" stroke="#000" stroke-width="3.8" stroke-linejoin="round" stroke-linecap="round"/>
<polyline points="1258.0,484.0 1256.0,494.0 1247.0,503.0 1238.0,510.0 1231.0,510.0 1224.0,523.0 1220.0,528.0 1214.3,543.4 1198.5,547.0 1189.7,538.0 1182.3,537.3" fill="none" stroke="#000" stroke-width="3.8" stroke-linejoin="round" stroke-linecap="round"/>
<polyline points="1258.0,484.0 1269.3,494.1 1275.6,490.5 1288.2,501.3 1279.2,512.0 1284.6,515.6 1298.9,522.8 1303.6,530.5" fill="none" stroke="#000" stroke-width="3.8" stroke-linejoin="round" stroke-linecap="round"/>
<polyline points="1270.0,484.6 1276.7,494.6 1286.8,500.3 1283.4,507.0 1279.0,514.8 1286.8,518.2 1298.0,526.0 1303.6,530.5" fill="none" stroke="#000" stroke-width="3.8" stroke-linejoin="round" stroke-linecap="round"/>
<polyline points="1189.0,562.3 1311.5,563.7" fill="none" stroke="#000" stroke-width="3.8" stroke-linejoin="round" stroke-linecap="round"/>
<polyline points="1159.1,604.5 1173.9,599.2 1202.3,600.5 1204.4,609.8 1230.8,609.8 1255.0,634.8" fill="none" stroke="#000" stroke-width="3.8" stroke-linejoin="round" stroke-linecap="round"/>
<polyline points="1229.5,412.9 1229.5,420.1 1322.4,420.1 1327.7,426.6 1336.1,437.2" fill="none" stroke="#000" stroke-width="3.8" stroke-linejoin="round" stroke-linecap="round"/>
<polyline points="1336.1,437.2 1327.7,450.4 1328.7,462.2 1335.1,467.5 1326.6,475.4 1321.4,478.0 1313.1,480.1" fill="none" stroke="#000" stroke-width="3.8" stroke-linejoin="round" stroke-linecap="round"/>
<polyline points="1313.1,480.1 1313.1,513.6 1328.7,513.6" fill="none" stroke="#000" stroke-width="3.8" stroke-linejoin="round" stroke-linecap="round"/>
<polyline points="1336.1,437.2 1353.0,446.7 1350.9,454.3" fill="none" stroke="#000" stroke-width="3.8" stroke-linejoin="round" stroke-linecap="round"/>
<polyline points="1358.2,446.4 1361.4,443.8 1361.4,418.7 1366.4,400.3 1363.5,377.9 1364.5,367.4 1364.5,340.7" fill="none" stroke="#000" stroke-width="3.8" stroke-linejoin="round" stroke-linecap="round"/>
<polyline points="1361.4,418.7 1397.2,419.5 1406.1,419.5 1406.1,433.2" fill="none" stroke="#000" stroke-width="3.8" stroke-linejoin="round" stroke-linecap="round"/>
<polyline points="1397.2,419.5 1396.2,438.0" fill="none" stroke="#000" stroke-width="3.8" stroke-linejoin="round" stroke-linecap="round"/>
<polyline points="1366.4,400.3 1407.7,401.1 1414.1,398.4 1417.9,397.1" fill="none" stroke="#000" stroke-width="3.8" stroke-linejoin="round" stroke-linecap="round"/>
<polyline points="1383.5,400.8 1386.7,380.5 1393.0,359.4 1403.5,340.7" fill="none" stroke="#000" stroke-width="3.8" stroke-linejoin="round" stroke-linecap="round"/>
<polyline points="1420.4,391.9 1414.5,380.5 1412.4,333.1" fill="none" stroke="#000" stroke-width="3.8" stroke-linejoin="round" stroke-linecap="round"/>
<polygon points="318,236 327,236 330,243 334,250 336,262 334,275 336,283 330,289 322,290 315,285 314,272 318,262 316,255 313,248 318,243" fill="#000"/>
<polygon points="1003,731 1009,725 1017,727 1022,733 1020,737 1014,735 1005,735" fill="none" stroke="#000" stroke-width="3.8" stroke-linejoin="round"/>
<ellipse cx="1421" cy="436.5" rx="5" ry="3" fill="#000"/><ellipse cx="1432.8" cy="438.5" rx="4" ry="3" fill="#000"/>
<polyline points="1162,878 1178,880 1191,877 1206,870 1217,859" fill="none" stroke="#d9d1e9" stroke-width="3"/>
<ellipse cx="378" cy="631" rx="5" ry="2" fill="#b9abd6"/><ellipse cx="392" cy="650" rx="2" ry="2" fill="#b9abd6"/><ellipse cx="408" cy="652" rx="3" ry="2" fill="#b9abd6"/><ellipse cx="414" cy="662" rx="3" ry="2" fill="#b9abd6"/>
<polyline points="858,818 858,807 864,793 872,784 887,773 902,764 914,753 925,748" fill="none" stroke="#000" stroke-width="5.5" stroke-linejoin="round" stroke-linecap="round"/>
<ellipse cx="1166" cy="793" rx="4" ry="5" fill="#000"/><ellipse cx="1179" cy="818" rx="3" ry="3" fill="#000"/><ellipse cx="1203" cy="862" rx="3" ry="3" fill="#000"/>
<polygon points="1029,262 1040,256 1047,258 1036,266" fill="#b3b3b3"/>
<polygon points="997,290 1004,286 1006,292 999,294" fill="#b3b3b3"/>
<polygon points="1128,302 1140,298 1150,303 1150,312 1140,309" fill="#b3b3b3"/>
<polygon points="1100,320 1110,318 1112,328 1105,340 1096,342 1098,330" fill="#b3b3b3"/>
<polygon points="330,519 336,521 339,528 337,533 339,538 333,539 329,533 327,526" fill="#000"/>
<polyline points="1292,569 1298,578 1306,576 1313,586 1318,583" fill="none" stroke="#000" stroke-width="5" stroke-linejoin="round" stroke-linecap="round"/>
<polyline points="1286,591 1296,594 1300,600 1296,606 1303,612" fill="none" stroke="#000" stroke-width="5" stroke-linejoin="round" stroke-linecap="round"/>
<polyline points="1290,612 1300,604" fill="none" stroke="#000" stroke-width="5" stroke-linejoin="round" stroke-linecap="round"/>
<polyline points="1288,541 1300,545 1308,553" fill="none" stroke="#000" stroke-width="5" stroke-linejoin="round" stroke-linecap="round"/>
<polyline points="1296,493 1300,510 1297,530 1305,550" fill="none" stroke="#000" stroke-width="5" stroke-linejoin="round" stroke-linecap="round"/>
<polyline points="1306,484 1302,495 1304,515 1310,535 1310,548" fill="none" stroke="#000" stroke-width="5" stroke-linejoin="round" stroke-linecap="round"/>
<polyline points="1292,512 1300,520 1305,532" fill="none" stroke="#000" stroke-width="5" stroke-linejoin="round" stroke-linecap="round"/>
<polyline points="1287,540 1298,548" fill="none" stroke="#000" stroke-width="5" stroke-linejoin="round" stroke-linecap="round"/>
<polyline points="1300,488 1296,500" fill="none" stroke="#000" stroke-width="5" stroke-linejoin="round" stroke-linecap="round"/>
<text x="1542.8" y="323.25" font-size="25.4" font-weight="bold" textLength="92.6" lengthAdjust="spacingAndGlyphs">Earliest</text>
<text x="1542.8" y="351.05" font-size="25.4" font-weight="bold" textLength="135.1" lengthAdjust="spacingAndGlyphs">date of OW</text>
<text x="1542.8" y="378.85" font-size="25.4" font-weight="bold" textLength="128.2" lengthAdjust="spacingAndGlyphs">gen. pupal</text>
<text x="1542.8" y="406.65" font-size="25.4" font-weight="bold" textLength="158.6" lengthAdjust="spacingAndGlyphs">development</text>
<rect x="1541.9" y="421.10" width="25" height="25.76" fill="#4d4d4d"/>
<text x="1577.7" y="440.60" font-size="20.8" textLength="100.9" lengthAdjust="spacingAndGlyphs">excl.-sev.</text>
<rect x="1541.9" y="446.56" width="25" height="25.76" fill="#b3b3b3"/>
<text x="1577.7" y="466.06" font-size="20.8" textLength="113.1" lengthAdjust="spacingAndGlyphs">excl.-mod.</text>
<rect x="1541.9" y="472.02" width="25" height="25.76" fill="#d9d1e9"/>
<text x="1577.7" y="491.52" font-size="20.8" textLength="69.5" lengthAdjust="spacingAndGlyphs">Jan-11</text>
<rect x="1541.9" y="497.48" width="25" height="25.76" fill="#ada0cb"/>
<text x="1577.7" y="516.98" font-size="20.8" textLength="69.5" lengthAdjust="spacingAndGlyphs">Jan-18</text>
<rect x="1541.9" y="522.94" width="25" height="25.76" fill="#8577b1"/>
<text x="1577.7" y="542.44" font-size="20.8" textLength="69.5" lengthAdjust="spacingAndGlyphs">Jan-25</text>
<rect x="1541.9" y="548.40" width="25" height="25.76" fill="#a9f6e2"/>
<text x="1577.7" y="567.90" font-size="20.8" textLength="74.4" lengthAdjust="spacingAndGlyphs">Feb-01</text>
<rect x="1541.9" y="573.86" width="25" height="25.76" fill="#8de1cd"/>
<text x="1577.7" y="593.36" font-size="20.8" textLength="74.4" lengthAdjust="spacingAndGlyphs">Feb-08</text>
<rect x="1541.9" y="599.32" width="25" height="25.76" fill="#6ed1c0"/>
<text x="1577.7" y="618.82" font-size="20.8" textLength="74.4" lengthAdjust="spacingAndGlyphs">Feb-15</text>
<rect x="1541.9" y="624.78" width="25" height="25.76" fill="#52c2b2"/>
<text x="1577.7" y="644.28" font-size="20.8" textLength="74.4" lengthAdjust="spacingAndGlyphs">Feb-22</text>
<rect x="1541.9" y="650.24" width="25" height="25.76" fill="#bdfcc0"/>
<text x="1577.7" y="669.74" font-size="20.8" textLength="75.5" lengthAdjust="spacingAndGlyphs">Mar-01</text>
<rect x="1541.9" y="675.70" width="25" height="25.76" fill="#8fd18f"/>
<text x="1577.7" y="695.20" font-size="20.8" textLength="75.5" lengthAdjust="spacingAndGlyphs">Mar-08</text>
<rect x="1541.9" y="701.16" width="25" height="25.76" fill="#66a86a"/>
<text x="1577.7" y="720.66" font-size="20.8" textLength="75.5" lengthAdjust="spacingAndGlyphs">Mar-15</text>
<rect x="1541.9" y="726.62" width="25" height="25.76" fill="#387a3c"/>
<text x="1577.7" y="746.12" font-size="20.8" textLength="75.5" lengthAdjust="spacingAndGlyphs">Mar-22</text>
<rect x="1541.9" y="752.08" width="25" height="25.76" fill="#154f14"/>
<text x="1577.7" y="771.58" font-size="20.8" textLength="75.5" lengthAdjust="spacingAndGlyphs">Mar-29</text>
<rect x="1541.9" y="777.54" width="25" height="25.76" fill="#ccff00"/>
<text x="1577.7" y="797.04" font-size="20.8" textLength="72.2" lengthAdjust="spacingAndGlyphs">Apr-05</text>
<rect x="1701.9" y="421.10" width="25" height="25.76" fill="#a8ec0c"/>
<text x="1737.7" y="440.60" font-size="20.8" textLength="72.2" lengthAdjust="spacingAndGlyphs">Apr-12</text>
<rect x="1701.9" y="446.56" width="25" height="25.76" fill="#7fdc0c"/>
<text x="1737.7" y="466.06" font-size="20.8" textLength="72.2" lengthAdjust="spacingAndGlyphs">Apr-19</text>
<rect x="1701.9" y="472.02" width="25" height="25.76" fill="#53cc0b"/>
<text x="1737.7" y="491.52" font-size="20.8" textLength="72.2" lengthAdjust="spacingAndGlyphs">Apr-26</text>
<rect x="1701.9" y="497.48" width="25" height="25.76" fill="#ffff00"/>
<text x="1737.7" y="516.98" font-size="20.8" textLength="80.3" lengthAdjust="spacingAndGlyphs">May-03</text>
<rect x="1701.9" y="522.94" width="25" height="25.76" fill="#e0da00"/>
<text x="1737.7" y="542.44" font-size="20.8" textLength="80.3" lengthAdjust="spacingAndGlyphs">May-10</text>
<rect x="1701.9" y="548.40" width="25" height="25.76" fill="#beab09"/>
<text x="1737.7" y="567.90" font-size="20.8" textLength="80.3" lengthAdjust="spacingAndGlyphs">May-17</text>
<rect x="1701.9" y="573.86" width="25" height="25.76" fill="#9a820c"/>
<text x="1737.7" y="593.36" font-size="20.8" textLength="80.3" lengthAdjust="spacingAndGlyphs">May-24</text>
<rect x="1701.9" y="599.32" width="25" height="25.76" fill="#795d0b"/>
<text x="1737.7" y="618.82" font-size="20.8" textLength="80.3" lengthAdjust="spacingAndGlyphs">May-31</text>
<rect x="1701.9" y="624.78" width="25" height="25.76" fill="#fdd68c"/>
<text x="1737.7" y="644.28" font-size="20.8" textLength="70.0" lengthAdjust="spacingAndGlyphs">Jun-07</text>
<rect x="1701.9" y="650.24" width="25" height="25.76" fill="#fdc170"/>
<text x="1737.7" y="669.74" font-size="20.8" textLength="70.0" lengthAdjust="spacingAndGlyphs">Jun-14</text>
<rect x="1701.9" y="675.70" width="25" height="25.76" fill="#fbaa56"/>
<text x="1737.7" y="695.20" font-size="20.8" textLength="70.0" lengthAdjust="spacingAndGlyphs">Jun-21</text>
<rect x="1701.9" y="701.16" width="25" height="25.76" fill="#fb9535"/>
<text x="1737.7" y="720.66" font-size="20.8" textLength="70.0" lengthAdjust="spacingAndGlyphs">Jun-28</text>
<rect x="1701.9" y="726.62" width="25" height="25.76" fill="#f4cdcd"/>
<text x="1737.7" y="746.12" font-size="20.8" textLength="62.4" lengthAdjust="spacingAndGlyphs">Jul-05</text>
<rect x="1701.9" y="752.08" width="25" height="25.76" fill="#f49a99"/>
<text x="1737.7" y="771.58" font-size="20.8" textLength="62.4" lengthAdjust="spacingAndGlyphs">Jul-12</text>
<rect x="1701.9" y="777.54" width="25" height="25.76" fill="#f66868"/>
<text x="1737.7" y="797.04" font-size="20.8" textLength="62.4" lengthAdjust="spacingAndGlyphs">Jul-20</text>
</svg></body></html>
